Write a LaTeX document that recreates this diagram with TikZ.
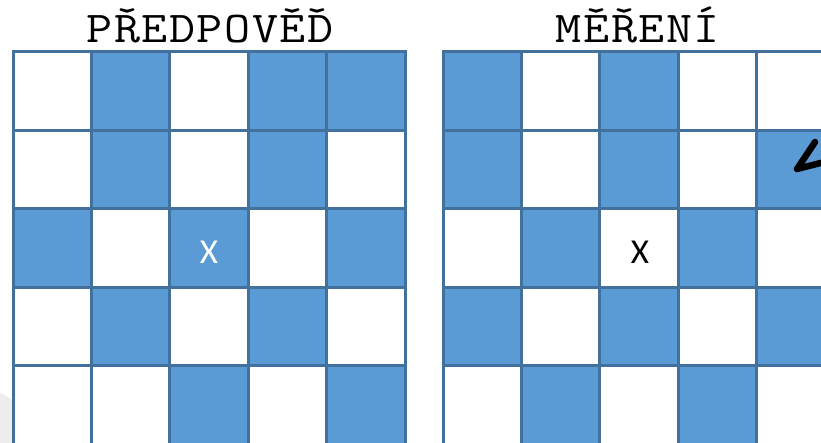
\documentclass[tikz,border=0pt]{standalone}
\usepackage{fontspec}
\setmainfont{Liberation Serif}
\newfontfamily\titlefont[FakeStretch=1.15,LetterSpace=3.5]{Latin Modern Mono}
\newfontfamily\xfont{Carlito}
\definecolor{cellblue}{HTML}{5B9BD5}
\definecolor{gridblue}{HTML}{41719C}
\tikzset{
  gridln/.style={draw=gridblue, line width=3pt, line cap=rect},
  cellfill/.style={fill=cellblue},
  titletext/.style={anchor=base, inner sep=0pt, font=\titlefont\fontsize{44}{44}\selectfont},
  xmark/.style={anchor=base, inner sep=0pt, font=\xfont\fontsize{35}{35}\selectfont},
  pointer/.style={draw=black, line width=6.5pt, line cap=round, line join=round}
}
\begin{document}
\begin{tikzpicture}[x=1pt,y=-1pt]
\useasboundingbox (0,0) rectangle (821,443);
\clip (0,0) rectangle (821,443);
% faint background shape
\fill[black!7] (0,393) .. controls (6,395) and (10,398) .. (13,401) -- (13,443) -- (0,443) -- cycle;
\fill[white] (13,52) rectangle (405,444);
\fill[white] (443,52) rectangle (835,444);
% left grid cells
\foreach \row/\pat in {0/{0,1,0,1,1},1/{0,1,0,1,0},2/{1,0,1,0,1},3/{0,1,0,1,0},4/{0,0,1,0,1}} {
  \foreach \v [count=\c from 0] in \pat {
    \ifnum\v=1 \fill[cellfill] (13+\c*78.4, 52+\row*78.4) rectangle ++(78.4,78.4); \fi
  }
}
% right grid cells
\foreach \row/\pat in {0/{1,0,1,0,0},1/{1,0,1,0,1},2/{0,1,0,1,0},3/{1,0,1,0,1},4/{0,1,0,1,0}} {
  \foreach \v [count=\c from 0] in \pat {
    \ifnum\v=1 \fill[cellfill] (443+\c*78.4, 52+\row*78.4) rectangle ++(78.4,78.4); \fi
  }
}
% grid lines
\foreach \i in {0,...,5} {
  \draw[gridln] (13+\i*78.4,52) -- ++(0,392);
  \draw[gridln] (13,52+\i*78.4) -- ++(392,0);
  \draw[gridln] (443+\i*78.4,52) -- ++(0,392);
  \draw[gridln] (443,52+\i*78.4) -- ++(392,0);
}
% titles
\node[titletext] (t1) at (210,43) {PŘEDPOVĚĎ};
\node[titletext] (t2) at (638,43) {MĚŘENÍ};
% X marks
\node[xmark, text=white] (x1) at (209,264) {X};
\node[xmark, text=black] (x2) at (640,264) {X};
% arrow
\coordinate (atip) at (797,169);
\coordinate (aup) at (815,142);
\coordinate (aright) at (840,158);
\draw[pointer] (aup) -- (atip) -- (aright);
\end{tikzpicture}
\end{document}
